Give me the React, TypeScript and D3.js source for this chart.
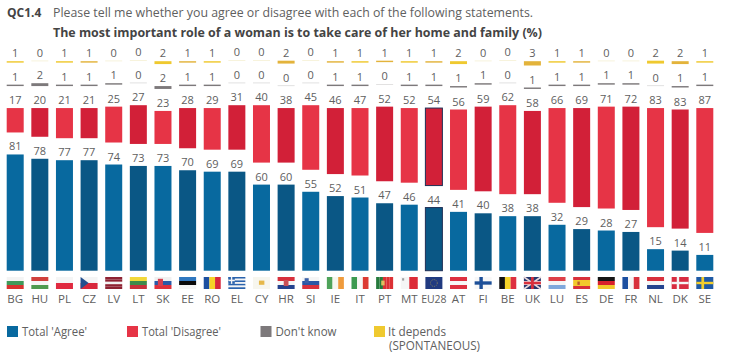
import React from 'react';
import * as d3 from 'd3';

const codes = ['BG','HU','PL','CZ','LV','LT','SK','EE','RO','EL','CY','HR','SI','IE','IT','PT','MT','EU28','AT','FI','BE','UK','LU','ES','DE','FR','NL','DK','SE'];
const agree = [81,78,77,77,74,73,73,70,69,69,60,60,55,52,51,47,46,44,41,40,38,38,32,29,28,27,15,14,11];
const disagree = [17,20,21,21,25,27,23,28,29,31,40,38,45,46,47,52,52,54,56,59,62,58,66,69,71,72,83,83,87];
const dontKnow = [1,2,1,1,1,0,2,1,1,0,0,0,0,1,1,0,1,1,1,1,0,1,1,1,1,1,0,1,1];
const depends = [1,0,1,1,0,0,2,1,1,0,0,2,0,1,1,1,1,1,2,0,0,3,1,1,0,0,2,2,1];

const blueA = '#08699f', blueB = '#0a5785';
const redA = '#e63446', redB = '#d22038';
const greyA = '#7d797b', yellowA = '#efc92f', yellowB = '#e3b33b';
const navy = '#1f2f55';
const textCol = '#606060';

// Flags: direction, stripes, then optional overlays in a 0-1 box [x, y, w, h, colour]
type Flag = { d: 'h' | 'v'; s: string[]; o?: [number, number, number, number, string][] };
const flags: Record<string, Flag> = {
  BG: { d: 'h', s: ['#f4f4f4', '#3f9a5a', '#d8322f'] },
  HU: { d: 'h', s: ['#d0403c', '#f5f5f5', '#4f9a4f'] },
  PL: { d: 'h', s: ['#f5f5f5', '#e02a40'] },
  CZ: { d: 'h', s: ['#f5f5f5', '#d8283c'] },
  LV: { d: 'h', s: ['#8e2232', '#8e2232', '#f2f2f2', '#8e2232', '#8e2232'] },
  LT: { d: 'h', s: ['#f2d83a', '#3f8a4a', '#c8303a'] },
  SK: { d: 'h', s: ['#f0f0f0', '#2a5aa8', '#e0303c'], o: [[0.2, 0.15, 0.3, 0.6, '#d84050']] },
  EE: { d: 'h', s: ['#2f78c0', '#0a0a0a', '#f5f5f5'] },
  RO: { d: 'v', s: ['#1c4fa0', '#f5d328', '#d8283c'] },
  EL: { d: 'h', s: ['#2b63ad', '#f4f4f4', '#2b63ad', '#f4f4f4', '#2b63ad', '#f4f4f4', '#2b63ad'], o: [[0, 0, 0.38, 0.57, '#2b63ad'], [0.15, 0, 0.08, 0.57, '#f4f4f4'], [0, 0.22, 0.38, 0.13, '#f4f4f4']] },
  CY: { d: 'h', s: ['#f7f6ee'], o: [[0.35, 0.3, 0.32, 0.35, '#e6b84a']] },
  HR: { d: 'h', s: ['#d8303c', '#f5f5f5', '#24428e'], o: [[0.36, 0.25, 0.28, 0.5, '#c85058']] },
  SI: { d: 'h', s: ['#f5f5f5', '#2a56a5', '#d8303c'], o: [[0.14, 0.1, 0.24, 0.42, '#3a60a8']] },
  IE: { d: 'v', s: ['#4ea35a', '#f7f7f0', '#ef9b3c'] },
  IT: { d: 'v', s: ['#3c9a50', '#f7f7f5', '#dc3a32'] },
  PT: { d: 'v', s: ['#257a3c', '#257a3c', '#dc3034', '#dc3034', '#dc3034'], o: [[0.3, 0.3, 0.2, 0.4, '#e0c060']] },
  MT: { d: 'v', s: ['#f5f5f5', '#dc2c38'], o: [[0.08, 0.1, 0.12, 0.2, '#a0a0a0']] },
  EU28: { d: 'h', s: ['#203a80'] },
  AT: { d: 'h', s: ['#de3040', '#f7f7f7', '#de3040'] },
  FI: { d: 'h', s: ['#f7f7f7'], o: [[0, 0.36, 1, 0.28, '#1c4f98'], [0.28, 0, 0.2, 1, '#1c4f98']] },
  BE: { d: 'v', s: ['#111111', '#f5d328', '#de3040'] },
  UK: { d: 'h', s: ['#26386e', '#e8c8cc', '#26386e'], o: [[0.42, 0, 0.16, 1, '#d8303c'], [0, 0.4, 1, 0.2, '#d8303c']] },
  LU: { d: 'h', s: ['#de4048', '#f5f5f5', '#7fa8dc'] },
  ES: { d: 'h', s: ['#d8303a', '#f2c92c', '#f2c92c', '#d8303a'], o: [[0.25, 0.38, 0.14, 0.28, '#b85a30']] },
  DE: { d: 'h', s: ['#151515', '#d8202c', '#f2c92c'] },
  FR: { d: 'v', s: ['#1c4fa0', '#f5f5f5', '#d8303c'] },
  NL: { d: 'h', s: ['#d8303c', '#f5f5f5', '#24448f'] },
  DK: { d: 'h', s: ['#d82c40'], o: [[0, 0.4, 1, 0.2, '#f5f5f5'], [0.3, 0, 0.14, 1, '#f5f5f5']] },
  SE: { d: 'h', s: ['#1f5aa5'], o: [[0, 0.4, 1, 0.2, '#f2ce2c'], [0.3, 0, 0.16, 1, '#f2ce2c']] },
};

const W = 729, H = 355;
const x = d3.scalePoint<string>().domain(codes).range([15.2, 704.8]);
const h = d3.scaleLinear().domain([0, 100]).range([0, 143.5]);
const baseY = 270.7, gap = 22, barW = 17;
const font = '"Open Sans", sans-serif';

const FlagIcon = ({ code }: { code: string }) => {
  const f = flags[code];
  const fw = 17, fh = 12, fx = x(code)! - fw / 2, fy = 277;
  const band = d3.scaleBand<number>().domain(d3.range(f.s.length)).range([0, f.d === 'h' ? fh : fw]);
  return (
    <g>
      {f.s.map((c, i) =>
        f.d === 'h'
          ? <rect key={i} x={fx} y={fy + band(i)!} width={fw} height={band.bandwidth()} fill={c} />
          : <rect key={i} x={fx + band(i)!} y={fy} width={band.bandwidth()} height={fh} fill={c} />
      )}
      {code === 'CZ' && <path d={`M${fx},${fy}L${fx + 8},${fy + 6}L${fx},${fy + 12}Z`} fill="#24508f" />}
      {code === 'UK' && <path d={`M${fx},${fy}L${fx + fw},${fy + fh}M${fx + fw},${fy}L${fx},${fy + fh}`} stroke="#e8d8da" strokeWidth={1.6} />}
      {(f.o || []).map((o, i) => <rect key={i} x={fx + o[0] * fw} y={fy + o[1] * fh} width={o[2] * fw} height={o[3] * fh} fill={o[4]} />)}
      {code === 'EU28' && <circle cx={fx + fw / 2} cy={fy + fh / 2} r={3.4} fill="none" stroke="#b8a84a" strokeWidth={0.6} strokeDasharray="1 1" />}
    </g>
  );
};

const legend = [
  { label: "Total 'Agree'", sx: 7, tx: 22, c: blueA, len: 65 },
  { label: "Total 'Disagree'", sx: 127, tx: 142, c: redA, len: 79 },
  { label: "Don't know", sx: 260.5, tx: 275.5, c: greyA, len: 61 },
  { label: 'It depends', sx: 374, tx: 388, c: yellowA, len: 58 },
];

export default function App() {
  const rows = codes.map((code, i) => {
    const aTop = baseY - h(agree[i]);
    const rBottom = aTop - gap;
    const rTop = rBottom - h(disagree[i]);
    const gBottom = rTop - gap;
    const gH = Math.max(h(dontKnow[i]), 0.5);
    const gTop = gBottom - gH;
    const yBottom = gTop - gap;
    const yH = Math.max(h(depends[i]), 0.5);
    const yTop = yBottom - yH;
    return { code, i, cx: x(code)!, aTop, rTop, rBottom, gTop, gH, yTop, yH };
  });
  const val = (cx: number, y: number, t: number, k: string) => (
    <text key={k} x={cx} y={y} textAnchor="middle" fontSize={11} fill={textCol}>{t}</text>
  );
  return (
    <svg width={W} height={H} style={{ position: 'absolute', left: 0, top: 0, background: '#fff' }} fontFamily={font}>
      <text x={7} y={17} fontSize={12} fontWeight={700} fill="#444">QC1.4</text>
      <text x={53} y={17} fontSize={12} fill={textCol} textLength={480} lengthAdjust="spacingAndGlyphs">Please tell me whether you agree or disagree with each of the following statements.</text>
      <text x={53} y={37} fontSize={12} fontWeight={700} fill="#444" textLength={489} lengthAdjust="spacingAndGlyphs">The most important role of a woman is to take care of her home and family  (%)</text>

      {rows.map(r => {
        const even = r.i % 2 === 0;
        const eu = r.code === 'EU28';
        const stroke = eu ? navy : 'none';
        return (
          <g key={r.code}>
            <rect x={r.cx - barW / 2} y={r.yTop} width={barW} height={r.yH} fill={depends[r.i] === 0 ? '#efe6b8' : even ? yellowA : yellowB} />
            <rect x={r.cx - barW / 2} y={r.gTop} width={barW} height={r.gH} fill={dontKnow[r.i] === 0 ? '#c4c2c2' : greyA} />
            <rect x={r.cx - barW / 2} y={r.rTop} width={barW} height={r.rBottom - r.rTop} fill={even ? redA : redB} stroke={stroke} strokeWidth={1} />
            <rect x={r.cx - barW / 2} y={r.aTop} width={barW} height={baseY - r.aTop} fill={even ? blueA : blueB} stroke={stroke} strokeWidth={1} />
            {val(r.cx, r.yTop - 4, depends[r.i], 'y')}
            {val(r.cx, r.gTop - 4, dontKnow[r.i], 'g')}
            {val(r.cx, r.rTop - 4, disagree[r.i], 'r')}
            {val(r.cx, r.aTop - 4, agree[r.i], 'a')}
            <FlagIcon code={r.code} />
            {eu
              ? <text x={r.cx} y={302.5} textAnchor="middle" fontSize={11.5} fill={textCol} textLength={25.5} lengthAdjust="spacingAndGlyphs">{r.code}</text>
              : <text x={r.cx} y={302.5} textAnchor="middle" fontSize={11.5} fill={textCol}>{r.code}</text>}
          </g>
        );
      })}

      {legend.map(l => (
        <g key={l.label}>
          <rect x={l.sx} y={326} width={11} height={11} fill={l.c} />
          <text x={l.tx} y={336} fontSize={12} fill={textCol} textLength={l.len} lengthAdjust="spacingAndGlyphs">{l.label}</text>
        </g>
      ))}
      <text x={389} y={350} fontSize={12} fill={textCol} textLength={91} lengthAdjust="spacingAndGlyphs">(SPONTANEOUS)</text>
    </svg>
  );
}
